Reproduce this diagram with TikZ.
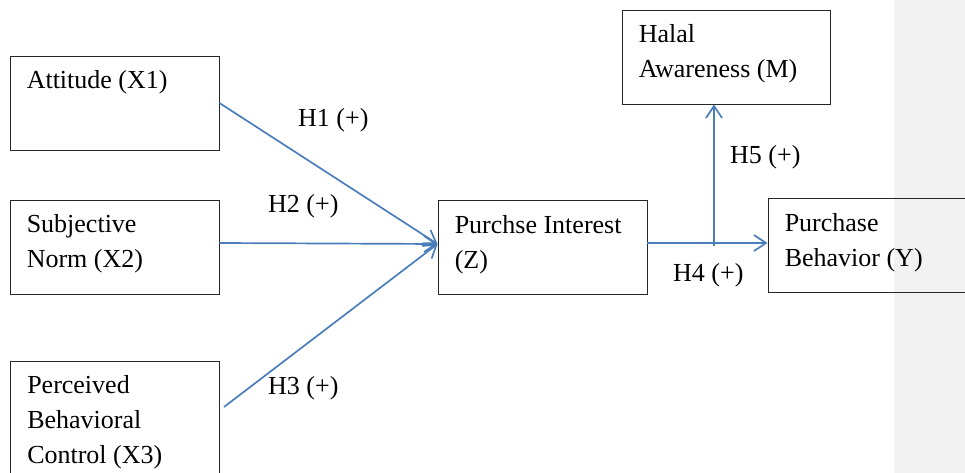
\documentclass[tikz,border=0pt]{standalone}
\usepackage{fontspec}
\setmainfont{Liberation Serif}
\usetikzlibrary{arrows.meta}
\definecolor{arrowblue}{HTML}{4A7EBB}

\begin{document}
\begin{tikzpicture}[x=1pt,y=-1pt,
		every node/.style={font=\fontsize{26}{35}\selectfont},
		box/.style={draw=black!85,line width=.9pt,minimum width=209pt,minimum height=94pt,inner sep=0pt},
		txt/.style={anchor=base west,align=left,inner sep=0pt},
		link/.style={-{Straight Barb[length=12pt,width=16pt]},draw=arrowblue,line width=1.7pt}]
			\useasboundingbox (0,0) rectangle (965,473);
			\fill[black!5] (894,0) rectangle (965,473);
			
			% txt nodes sit on the baseline of their last line
			\node[box] (att) at (114.5,103) {}; \node[txt] (attl) at ([xshift=17pt,yshift=-33pt]att.north west) {Attitude (X1)};
			\node[box] (sn) at (114.5,247) {}; \node[txt] (snl) at ([xshift=17pt,yshift=-68pt]sn.north west) {Subjective\\Norm (X2)};
			\node[box,minimum height=120pt] (pbc) at (115,421) {}; \node[txt] (pbcl) at ([xshift=17pt,yshift=-103pt]pbc.north west) {Perceived\\Behavioral\\Control (X3)};
			
			\node[box] (pi) at (542.5,247.5) {}; \node[txt] (pil) at ([xshift=17pt,yshift=-68pt]pi.north west) {Purchse Interest\\(Z)};
			\node[box,minimum width=208pt] (ha) at (726,57) {}; \node[txt] (hal) at ([xshift=17pt,yshift=-68pt]ha.north west) {Halal\\Awareness (M)};
			\node[box] (pb) at (872.5,245.5) {}; \node[txt] (pbl) at ([xshift=17pt,yshift=-68pt]pb.north west) {Purchase\\Behavior (Y)};
			
			\coordinate (zin) at ([yshift=3.5pt]pi.west);
			\coordinate (zout) at ([yshift=4.5pt]pi.east);
			\coordinate (pbcout) at ([xshift=4pt,yshift=14pt]pbc.east);
			\coordinate (j) at (714,243);
			
			\draw[link] (att.east) -- (zin); \node[txt] (h1) at (298,127) {H1 (+)};
			\draw[link] ([yshift=4pt]sn.east) -- (zin); \node[txt] (h2) at (268,212) {H2 (+)};
			\draw[link] (pbcout) -- (zin); \node[txt] (h3) at (268,394) {H3 (+)};
			
			\draw[link] (zout) -- (zout -| pb.west); \node[txt] (h4) at (673,281) {H4 (+)};
			\draw[link] ([yshift=-3pt]j) -- (j |- ha.south); \node[txt] (h5) at (730,164) {H5 (+)};
\end{tikzpicture}
\end{document}
